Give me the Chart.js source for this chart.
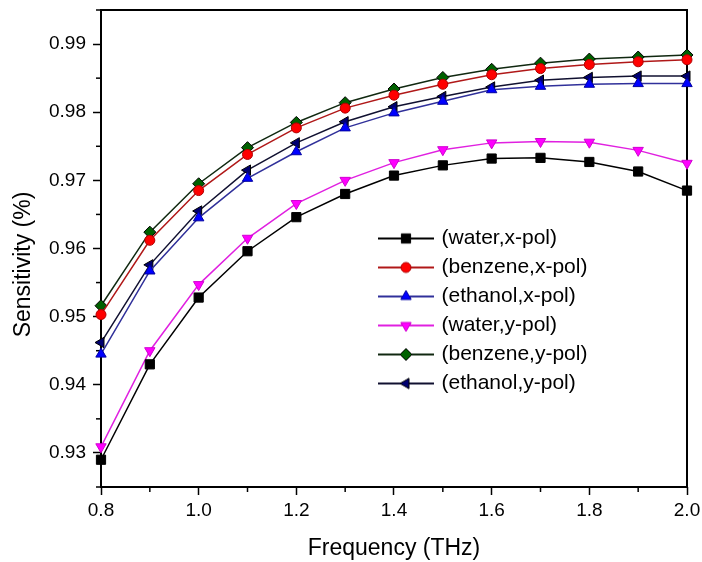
<!DOCTYPE html>
<html>
<head>
<meta charset="utf-8">
<script src="https://cdn.jsdelivr.net/npm/chart.js@4/dist/chart.umd.min.js"></script>
<style>
  html, body { margin: 0; padding: 0; background: #fff; }
  #wrap { width: 702px; height: 562px; }
</style>
</head>
<body>
<div id="wrap"><canvas id="sensChart" width="702" height="562"></canvas></div>
<script>
// Sensitivity vs frequency

const frequency = [0.8, 0.9, 1.0, 1.1, 1.2, 1.3, 1.4, 1.5, 1.6, 1.7, 1.8, 1.9, 2.0];

const waterX   = [0.9290, 0.9430, 0.9528, 0.9596, 0.9646, 0.9680, 0.9707, 0.9722, 0.9732, 0.9733, 0.9727, 0.9713, 0.9685];
const benzeneX = [0.9503, 0.9612, 0.9685, 0.9738, 0.9777, 0.9806, 0.9825, 0.9841, 0.9855, 0.9864, 0.9870, 0.9874, 0.9877];
const ethanolX = [0.9445, 0.9567, 0.9645, 0.9703, 0.9742, 0.9777, 0.9799, 0.9816, 0.9833, 0.9838, 0.9841, 0.9842, 0.9842];
const waterY   = [0.9309, 0.9450, 0.9547, 0.9615, 0.9666, 0.9700, 0.9726, 0.9745, 0.9755, 0.9757, 0.9756, 0.9744, 0.9725];
const benzeneY = [0.9516, 0.9624, 0.9695, 0.9748, 0.9785, 0.9814, 0.9834, 0.9851, 0.9863, 0.9872, 0.9878, 0.9881, 0.9884];
const ethanolY = [0.9462, 0.9576, 0.9655, 0.9715, 0.9755, 0.9786, 0.9808, 0.9823, 0.9837, 0.9847, 0.9851, 0.9853, 0.9853];

const seriesLabels = ['(water,x-pol)', '(benzene,x-pol)', '(ethanol,x-pol)', '(water,y-pol)', '(benzene,y-pol)', '(ethanol,y-pol)'];

const FONT = "'Liberation Sans', Arial, Helvetica, sans-serif";

// marker / line look per series
const styles = [
  { line: '#000000', fill: '#000000', edge: '#000000', shape: 'rect',     rot: 0,   r: 6.5 },
  { line: '#b01818', fill: '#ff0000', edge: '#b00000', shape: 'circle',   rot: 0,   r: 5 },
  { line: '#30309a', fill: '#0000ff', edge: '#0000a0', shape: 'triangle', rot: 0,   r: 6 },
  { line: '#e020e0', fill: '#ff00ff', edge: '#d000d0', shape: 'triangle', rot: 180, r: 6 },
  { line: '#102810', fill: '#006000', edge: '#000000', shape: 'rectRot',  rot: 0,   r: 6 },
  { line: '#101030', fill: '#000070', edge: '#000000', shape: 'triangle', rot: -90, r: 6 }
];

const seriesValues = [waterX, benzeneX, ethanolX, waterY, benzeneY, ethanolY];

function toPoints(values) {
  return values.map((v, i) => ({ x: frequency[i], y: v }));
}

// small line + marker icon for the legend
function legendIcon(st) {
  const c = document.createElement('canvas');
  c.width = 56;
  c.height = 16;
  const g = c.getContext('2d');
  g.strokeStyle = st.line;
  g.lineWidth = 2;
  g.beginPath();
  g.moveTo(0, 8);
  g.lineTo(56, 8);
  g.stroke();
  g.fillStyle = st.fill;
  g.strokeStyle = st.edge;
  g.lineWidth = 1;
  Chart.helpers.drawPoint(g, { pointStyle: st.shape, rotation: st.rot, radius: st.r, borderWidth: 1 }, 28, 8);
  return c;
}

const isMajorX = v => Math.round(v * 10) % 2 === 0;
const isMajorY = v => Math.round(v * 1000) % 10 === 0;

const datasets = seriesValues.map((vals, i) => {
  const st = styles[i];
  return {
    label: seriesLabels[i],
    data: toPoints(vals),
    borderColor: st.line,
    borderWidth: 1.5,
    pointStyle: st.shape,
    rotation: st.rot,
    pointRadius: st.r,
    pointBackgroundColor: st.fill,
    pointBorderColor: st.edge,
    pointBorderWidth: 1,
    tension: 0,
    clip: false
  };
});

// box around the plot plus the short minor ticks
const framePlugin = {
  id: 'frame',
  beforeDatasetsDraw(chart) {
    const { ctx, chartArea: a, scales } = chart;
    ctx.save();
    ctx.strokeStyle = '#000';
    ctx.lineWidth = 1.5;
    scales.x.ticks.forEach(t => {
      if (isMajorX(t.value)) return;
      const px = scales.x.getPixelForValue(t.value);
      ctx.beginPath();
      ctx.moveTo(px, a.bottom);
      ctx.lineTo(px, a.bottom + 5);
      ctx.stroke();
    });
    scales.y.ticks.forEach(t => {
      if (isMajorY(t.value)) return;
      const py = scales.y.getPixelForValue(t.value);
      ctx.beginPath();
      ctx.moveTo(a.left, py);
      ctx.lineTo(a.left - 5, py);
      ctx.stroke();
    });
    ctx.lineWidth = 2;
    ctx.strokeRect(a.left, a.top, a.right - a.left, a.bottom - a.top);
    ctx.restore();
  }
};

// move the legend inside the plot, right of centre
const legendPlace = {
  id: 'legendPlace',
  afterLayout(chart) {
    const lg = chart.legend;
    if (!lg) return;
    lg.left = 373;
    lg.top = 220;
    lg.right = lg.left + lg.width;
    lg.bottom = lg.top + lg.height;
  }
};

const ctx = document.getElementById('sensChart');

new Chart(ctx, {
  type: 'line',
  data: { datasets: datasets },
  options: {
    responsive: false,
    animation: false,
    layout: { padding: { top: 10, right: 15, left: 0, bottom: 0 } },
    plugins: {
      legend: {
        position: 'chartArea',
        align: 'start',
        labels: {
          usePointStyle: true,
          pointStyleWidth: 50,
          padding: 8,
          color: '#000',
          font: { family: FONT, size: 21 },
          generateLabels(chart) {
            return chart.data.datasets.map((ds, i) => ({
              text: ds.label,
              pointStyle: legendIcon(styles[i]),
              fillStyle: styles[i].fill,
              strokeStyle: styles[i].edge,
              lineWidth: 0,
              hidden: false,
              datasetIndex: i,
              fontColor: '#000'
            }));
          }
        }
      },
      tooltip: { enabled: false }
    },
    scales: {
      x: {
        type: 'linear',
        min: 0.8,
        max: 2.0,
        afterFit: s => { s.height = 75; s.paddingLeft = 0; s.paddingRight = 0; },
        ticks: {
          stepSize: 0.1,
          autoSkip: false,
          maxRotation: 0,
          padding: 4,
          color: '#000',
          font: { family: FONT, size: 19 },
          callback: v => isMajorX(v) ? v.toFixed(1) : ''
        },
        grid: {
          drawOnChartArea: false,
          drawTicks: true,
          tickLength: 8,
          tickWidth: 1.5,
          tickColor: c => (c.tick && isMajorX(c.tick.value)) ? '#000' : 'rgba(0,0,0,0)'
        },
        border: { display: false },
        title: {
          display: true,
          text: 'Frequency (THz)',
          color: '#000',
          font: { family: FONT, size: 23 },
          padding: { top: 0, bottom: 0 }
        }
      },
      y: {
        type: 'linear',
        min: 0.925,
        max: 0.995,
        afterFit: s => { s.width = 101; s.paddingTop = 0; s.paddingBottom = 0; },
        ticks: {
          stepSize: 0.005,
          autoSkip: false,
          padding: 7,
          color: '#000',
          font: { family: FONT, size: 19 },
          callback: v => isMajorY(v) ? v.toFixed(2) : ''
        },
        grid: {
          drawOnChartArea: false,
          drawTicks: true,
          tickLength: 8,
          tickWidth: 1.5,
          tickColor: c => (c.tick && isMajorY(c.tick.value)) ? '#000' : 'rgba(0,0,0,0)'
        },
        border: { display: false },
        title: {
          display: true,
          text: 'Sensitivity (%)     ',
          color: '#000',
          font: { family: FONT, size: 23 },
          padding: { top: 10, bottom: 0 }
        }
      }
    }
  },
  plugins: [framePlugin, legendPlace]
});
</script>
</body>
</html>
